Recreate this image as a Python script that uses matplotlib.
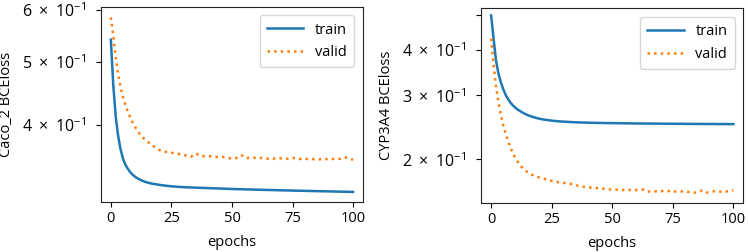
import numpy as np
import matplotlib
matplotlib.use("Agg")
import matplotlib.pyplot as plt
from matplotlib.ticker import NullLocator

plt.rcParams['font.family'] = ['Open Sans', 'DejaVu Sans']
plt.rcParams['font.size'] = 10.5
plt.rcParams['mathtext.fontset'] = 'custom'
plt.rcParams['mathtext.rm'] = 'Open Sans'
plt.rcParams['mathtext.it'] = 'Open Sans:italic'

epochs = np.arange(101)
xticks = [0, 25, 50, 75, 100]

# Caco_2 panel
caco_yticks = [0.4, 0.5, 0.6]
caco_ylabels = ['4', '5', '6']
caco_train = [
    0.540, 0.460, 0.412, 0.385, 0.367, 0.355, 0.3475, 0.3425, 0.3385, 0.3355,
    0.3330, 0.3312, 0.3297, 0.3284, 0.3273, 0.3264, 0.3257, 0.3251, 0.3246, 0.3241,
    0.3237, 0.3233, 0.3229, 0.3226, 0.3223, 0.3220, 0.3218, 0.3216, 0.3214, 0.3212,
    0.3211, 0.3209, 0.3208, 0.3207, 0.3206, 0.3205, 0.3204, 0.3203, 0.3202, 0.3201,
    0.3200, 0.3199, 0.3198, 0.3197, 0.3196, 0.3195, 0.3194, 0.3193, 0.3192, 0.3191,
    0.3190, 0.3189, 0.3188, 0.3188, 0.3187, 0.3186, 0.3185, 0.3185, 0.3184, 0.3183,
    0.3182, 0.3182, 0.3181, 0.3180, 0.3179, 0.3179, 0.3178, 0.3177, 0.3177, 0.3176,
    0.3175, 0.3175, 0.3174, 0.3173, 0.3173, 0.3172, 0.3171, 0.3171, 0.3170, 0.3170,
    0.3169, 0.3168, 0.3168, 0.3167, 0.3167, 0.3166, 0.3165, 0.3165, 0.3164, 0.3164,
    0.3163, 0.3162, 0.3162, 0.3161, 0.3161, 0.3160, 0.3159, 0.3159, 0.3158, 0.3158,
    0.3157]
caco_valid = [
    0.584, 0.548, 0.508, 0.478, 0.457, 0.441, 0.429, 0.419, 0.411, 0.403,
    0.397, 0.392, 0.387, 0.383, 0.380, 0.377, 0.375, 0.373, 0.370, 0.368,
    0.366, 0.365, 0.364, 0.3635, 0.363, 0.3625, 0.362, 0.3615, 0.361, 0.360,
    0.3595, 0.359, 0.358, 0.3575, 0.359, 0.3615, 0.3600, 0.3585, 0.358, 0.3582,
    0.3578, 0.3580, 0.3575, 0.3577, 0.3570, 0.3568, 0.3572, 0.3565, 0.3560, 0.3555,
    0.3552, 0.3556, 0.3558, 0.3570, 0.3590, 0.3575, 0.3552, 0.3560, 0.3555, 0.3562,
    0.3558, 0.3556, 0.3560, 0.3552, 0.3555, 0.3550, 0.3557, 0.3552, 0.3548, 0.3552,
    0.3555, 0.3550, 0.3545, 0.3548, 0.3556, 0.3560, 0.3554, 0.3548, 0.3545, 0.3552,
    0.3550, 0.3545, 0.3544, 0.3548, 0.3542, 0.3545, 0.3540, 0.3546, 0.3542, 0.3545,
    0.3540, 0.3543, 0.3546, 0.3542, 0.3545, 0.3550, 0.3560, 0.3565, 0.3550, 0.3542,
    0.3538]

# CYP3A4 panel
cyp_yticks = [0.2, 0.3, 0.4, 0.5]
cyp_ylabels = ['2', '3', '4', '']
cyp_train = [
    0.498, 0.430, 0.375, 0.345, 0.326, 0.312, 0.301, 0.293, 0.2865, 0.2815,
    0.2775, 0.2742, 0.2715, 0.2690, 0.2668, 0.2650, 0.2634, 0.2620, 0.2608, 0.2597,
    0.2588, 0.2580, 0.2573, 0.2567, 0.2562, 0.2557, 0.2553, 0.2549, 0.2546, 0.2543,
    0.2540, 0.2538, 0.2536, 0.2534, 0.2532, 0.2530, 0.2529, 0.2528, 0.2526, 0.2525,
    0.2524, 0.2523, 0.2522, 0.2521, 0.2520, 0.2520, 0.2519, 0.2518, 0.2518, 0.2517,
    0.2517, 0.2516, 0.2516, 0.2515, 0.2515, 0.2514, 0.2514, 0.2513, 0.2513, 0.2512,
    0.2512, 0.2511, 0.2511, 0.2511, 0.2510, 0.2510, 0.2510, 0.2509, 0.2509, 0.2509,
    0.2508, 0.2508, 0.2508, 0.2507, 0.2507, 0.2507, 0.2506, 0.2506, 0.2506, 0.2506,
    0.2505, 0.2505, 0.2505, 0.2505, 0.2504, 0.2504, 0.2504, 0.2504, 0.2503, 0.2503,
    0.2503, 0.2503, 0.2503, 0.2502, 0.2502, 0.2502, 0.2502, 0.2502, 0.2501, 0.2501,
    0.2501]
cyp_valid = [
    0.430, 0.365, 0.318, 0.288, 0.265, 0.248, 0.235, 0.225, 0.2153, 0.2075,
    0.2020, 0.1970, 0.1928, 0.1893, 0.1866, 0.1845, 0.1827, 0.1813, 0.1802, 0.1792,
    0.1783, 0.1776, 0.1768, 0.1760, 0.1752, 0.1746, 0.1742, 0.1735, 0.1729, 0.1726,
    0.1724, 0.1718, 0.1714, 0.1712, 0.1710, 0.1702, 0.1690, 0.1684, 0.1681, 0.1682,
    0.1678, 0.1672, 0.1668, 0.1670, 0.1666, 0.1663, 0.1662, 0.1660, 0.1657, 0.1654,
    0.1652, 0.1655, 0.1650, 0.1648, 0.1646, 0.1650, 0.1645, 0.1648, 0.1646, 0.1644,
    0.1647, 0.1645, 0.1649, 0.1652, 0.1646, 0.1632, 0.1627, 0.1630, 0.1634, 0.1636,
    0.1633, 0.1638, 0.1640, 0.1635, 0.1637, 0.1639, 0.1631, 0.1626, 0.1630, 0.1633,
    0.1629, 0.1627, 0.1628, 0.1622, 0.1620, 0.1621, 0.1630, 0.1642, 0.1632, 0.1621,
    0.1625, 0.1630, 0.1634, 0.1631, 0.1626, 0.1633, 0.1637, 0.1632, 0.1635, 0.1640,
    0.1645]


def sci_label(m):
    if not m:
        return ''
    return r'$%s\ \times\ 10^{-1}$' % m


def draw_panel(ax, train, valid, ylabel, ylim, yticks, ylabels):
    ax.plot(epochs, train, color='#1f77b4', lw=1.8, label='train')
    ax.plot(epochs, valid, color='#ff7f0e', lw=1.8, ls=':', label='valid')
    ax.set_yscale('log')
    ax.set_xlim(-4.2, 104.1)
    ax.set_ylim(*ylim)
    ax.set_xticks(xticks)
    ax.set_yticks(yticks)
    ax.set_yticklabels([sci_label(m) for m in ylabels])
    ax.yaxis.set_minor_locator(NullLocator())
    ax.set_xlabel('epochs', labelpad=6)
    ax.set_ylabel(ylabel)
    ax.yaxis.set_label_coords(-0.33, 0.5)
    ax.tick_params(axis='y', pad=7, labelsize=11.5)
    ax.legend(loc='upper right', handlelength=2.5, fontsize=10.5,
              borderpad=0.5, labelspacing=0.5, borderaxespad=0.6)
    for s in ax.spines.values():
        s.set_color('#222222')


fig = plt.figure(figsize=(7.48, 2.52), dpi=100)
ax1 = fig.add_axes([0.1346, 0.1996, 0.3507, 0.7746])
ax2 = fig.add_axes([0.6430, 0.1956, 0.3507, 0.7714])

draw_panel(ax1, caco_train, caco_valid, 'Caco_2 BCEloss', (0.305, 0.607),
           caco_yticks, caco_ylabels)
draw_panel(ax2, cyp_train, cyp_valid, 'CYP3A4 BCEloss', (0.152, 0.521),
           cyp_yticks, cyp_ylabels)

fig.savefig('out.png', dpi=100)
